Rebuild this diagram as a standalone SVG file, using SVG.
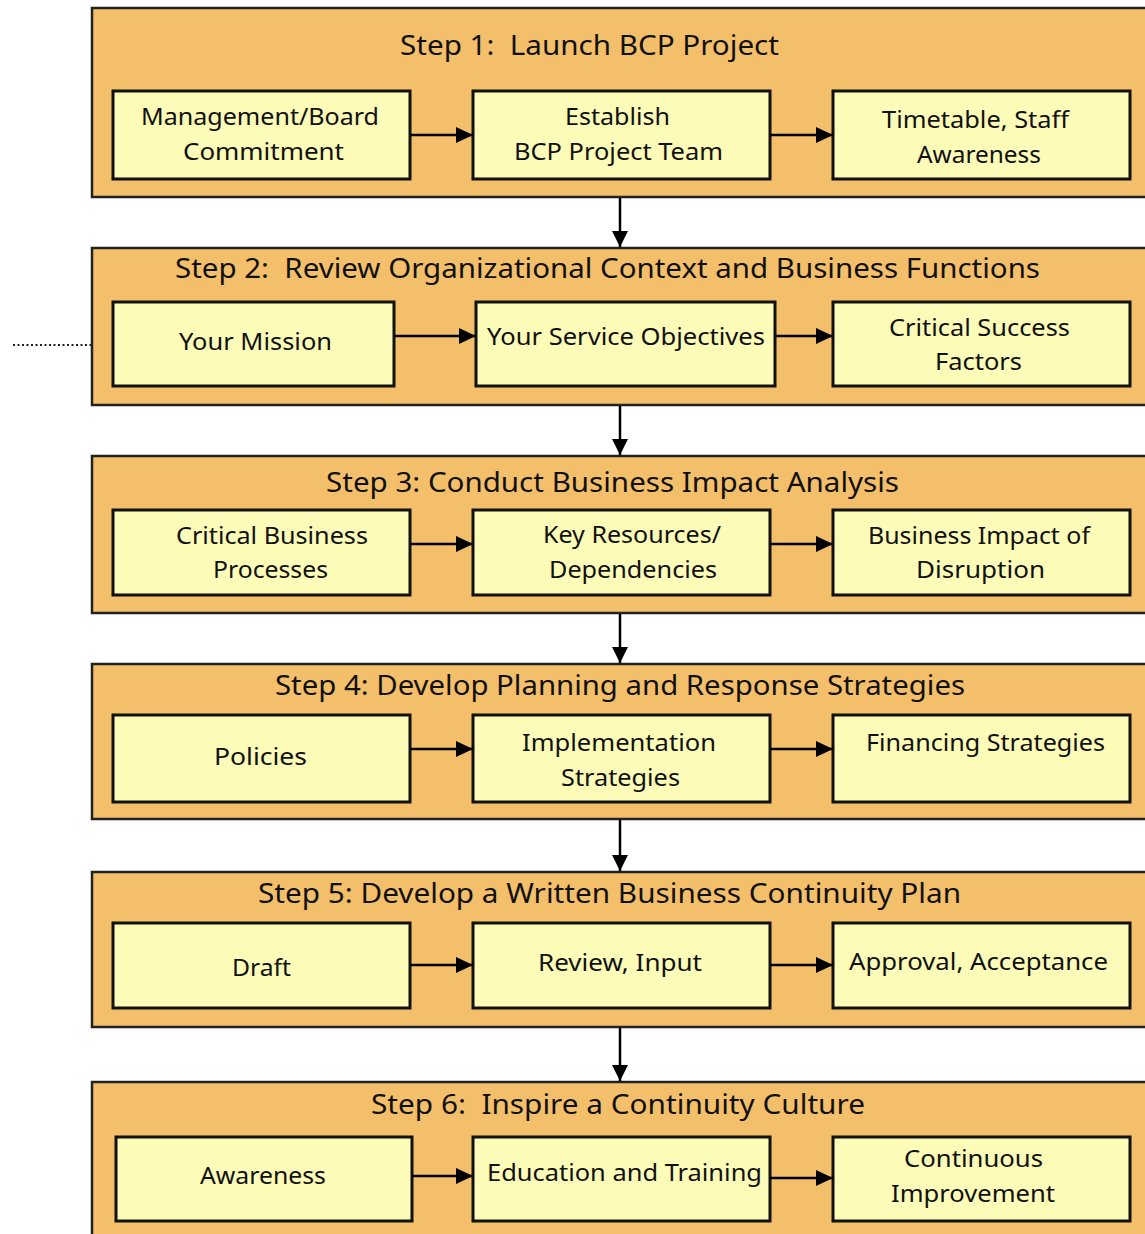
<svg xmlns="http://www.w3.org/2000/svg" width="1145" height="1234" viewBox="0 0 1145 1234">
<defs>
<style>
.panel{fill:#F4BF6B;stroke:#222;stroke-width:2.5}
.box{fill:#FCFBB8;stroke:#111;stroke-width:3}
.t{font-family:"Noto Sans","Open Sans","Liberation Sans",sans-serif;font-size:24px;fill:#111;text-anchor:start;white-space:pre}
.h{font-family:"Noto Sans","Open Sans","Liberation Sans",sans-serif;font-size:28px;fill:#111;text-anchor:start;white-space:pre}
.c{stroke:#000;stroke-width:2.5;fill:none;marker-end:url(#ah)}
.cv{stroke:#000;stroke-width:2.5;fill:none;marker-end:url(#av)}
</style>
<marker id="ah" viewBox="0 0 17 16" refX="17" refY="8" markerWidth="17" markerHeight="16" markerUnits="userSpaceOnUse" orient="auto">
<path d="M0,0 L17,8 L0,16 Z" fill="#000"/>
</marker>
<marker id="av" viewBox="0 0 16 16" refX="16" refY="8" markerWidth="16" markerHeight="16" markerUnits="userSpaceOnUse" orient="auto">
<path d="M0,0 L16,8 L0,16 Z" fill="#000"/>
</marker>
</defs>
<rect width="1145" height="1234" fill="#fff"/>

<line x1="13" y1="345" x2="91" y2="345" stroke="#222" stroke-width="2" stroke-dasharray="2,2.5"/>

<g id="step1">
<rect class="panel" x="92" y="8" width="1060" height="189"/>
<text class="h" x="400" y="55" textLength="379" lengthAdjust="spacingAndGlyphs">Step 1:  Launch BCP Project</text>
<g id="s1a"><rect class="box" x="113" y="91" width="297" height="88"/>
<text class="t" x="141" y="125" textLength="238" lengthAdjust="spacingAndGlyphs">Management/Board</text>
<text class="t" x="183" y="160" textLength="161" lengthAdjust="spacingAndGlyphs">Commitment</text></g>
<g id="s1b"><rect class="box" x="473" y="91" width="297" height="88"/>
<text class="t" x="565" y="125" textLength="105" lengthAdjust="spacingAndGlyphs">Establish</text>
<text class="t" x="514" y="160" textLength="209" lengthAdjust="spacingAndGlyphs">BCP Project Team</text></g>
<g id="s1c"><rect class="box" x="833" y="91" width="297" height="88"/>
<text class="t" x="882" y="128" textLength="187" lengthAdjust="spacingAndGlyphs">Timetable, Staff</text>
<text class="t" x="917" y="163" textLength="124" lengthAdjust="spacingAndGlyphs">Awareness</text></g>
</g>

<g id="step2">
<rect class="panel" x="92" y="248" width="1060" height="157"/>
<text class="h" x="175" y="278" textLength="865" lengthAdjust="spacingAndGlyphs">Step 2:  Review Organizational Context and Business Functions</text>
<g id="s2a"><rect class="box" x="113" y="302" width="281" height="84"/>
<text class="t" x="179" y="350" textLength="153" lengthAdjust="spacingAndGlyphs">Your Mission</text></g>
<g id="s2b"><rect class="box" x="476" y="302" width="299" height="84"/>
<text class="t" x="487" y="345" textLength="278" lengthAdjust="spacingAndGlyphs">Your Service Objectives</text></g>
<g id="s2c"><rect class="box" x="833" y="302" width="297" height="84"/>
<text class="t" x="889" y="336" textLength="181" lengthAdjust="spacingAndGlyphs">Critical Success</text>
<text class="t" x="935" y="370" textLength="87" lengthAdjust="spacingAndGlyphs">Factors</text></g>
</g>

<g id="step3">
<rect class="panel" x="92" y="456" width="1060" height="157"/>
<text class="h" x="326" y="492" textLength="573" lengthAdjust="spacingAndGlyphs">Step 3: Conduct Business Impact Analysis</text>
<g id="s3a"><rect class="box" x="113" y="510" width="297" height="85"/>
<text class="t" x="176" y="544" textLength="192" lengthAdjust="spacingAndGlyphs">Critical Business</text>
<text class="t" x="213" y="578" textLength="115" lengthAdjust="spacingAndGlyphs">Processes</text></g>
<g id="s3b"><rect class="box" x="473" y="510" width="297" height="85"/>
<text class="t" x="543" y="543" textLength="178" lengthAdjust="spacingAndGlyphs">Key Resources/</text>
<text class="t" x="549" y="578" textLength="168" lengthAdjust="spacingAndGlyphs">Dependencies</text></g>
<g id="s3c"><rect class="box" x="833" y="510" width="297" height="85"/>
<text class="t" x="868" y="544" textLength="222" lengthAdjust="spacingAndGlyphs">Business Impact of</text>
<text class="t" x="916" y="578" textLength="129" lengthAdjust="spacingAndGlyphs">Disruption</text></g>
</g>

<g id="step4">
<rect class="panel" x="92" y="664" width="1060" height="155"/>
<text class="h" x="275" y="695" textLength="690" lengthAdjust="spacingAndGlyphs">Step 4: Develop Planning and Response Strategies</text>
<g id="s4a"><rect class="box" x="113" y="715" width="297" height="87"/>
<text class="t" x="214" y="765" textLength="93" lengthAdjust="spacingAndGlyphs">Policies</text></g>
<g id="s4b"><rect class="box" x="473" y="715" width="297" height="87"/>
<text class="t" x="522" y="751" textLength="194" lengthAdjust="spacingAndGlyphs">Implementation</text>
<text class="t" x="561" y="786" textLength="119" lengthAdjust="spacingAndGlyphs">Strategies</text></g>
<g id="s4c"><rect class="box" x="833" y="715" width="297" height="87"/>
<text class="t" x="866" y="751" textLength="239" lengthAdjust="spacingAndGlyphs">Financing Strategies</text></g>
</g>

<g id="step5">
<rect class="panel" x="92" y="872" width="1060" height="155"/>
<text class="h" x="258" y="903" textLength="703" lengthAdjust="spacingAndGlyphs">Step 5: Develop a Written Business Continuity Plan</text>
<g id="s5a"><rect class="box" x="113" y="923" width="297" height="85"/>
<text class="t" x="232" y="976" textLength="59" lengthAdjust="spacingAndGlyphs">Draft</text></g>
<g id="s5b"><rect class="box" x="473" y="923" width="297" height="85"/>
<text class="t" x="538" y="971" textLength="164" lengthAdjust="spacingAndGlyphs">Review, Input</text></g>
<g id="s5c"><rect class="box" x="833" y="923" width="297" height="85"/>
<text class="t" x="849" y="970" textLength="259" lengthAdjust="spacingAndGlyphs">Approval, Acceptance</text></g>
</g>

<g id="step6">
<rect class="panel" x="92" y="1082" width="1060" height="170"/>
<text class="h" x="371" y="1114" textLength="494" lengthAdjust="spacingAndGlyphs">Step 6:  Inspire a Continuity Culture</text>
<g id="s6a"><rect class="box" x="116" y="1137" width="296" height="84"/>
<text class="t" x="200" y="1184" textLength="126" lengthAdjust="spacingAndGlyphs">Awareness</text></g>
<g id="s6b"><rect class="box" x="473" y="1137" width="297" height="84"/>
<text class="t" x="487" y="1181" textLength="275" lengthAdjust="spacingAndGlyphs">Education and Training</text></g>
<g id="s6c"><rect class="box" x="833" y="1137" width="297" height="84"/>
<text class="t" x="904" y="1167" textLength="139" lengthAdjust="spacingAndGlyphs">Continuous</text>
<text class="t" x="891" y="1202" textLength="164" lengthAdjust="spacingAndGlyphs">Improvement</text></g>
</g>

<g id="connectors">
<line class="c" x1="410" y1="135" x2="473" y2="135"/>
<line class="c" x1="770" y1="135" x2="833" y2="135"/>
<line class="c" x1="394" y1="336" x2="476" y2="336"/>
<line class="c" x1="775" y1="336" x2="833" y2="336"/>
<line class="c" x1="410" y1="544" x2="473" y2="544"/>
<line class="c" x1="770" y1="544" x2="833" y2="544"/>
<line class="c" x1="410" y1="749" x2="473" y2="749"/>
<line class="c" x1="770" y1="749" x2="833" y2="749"/>
<line class="c" x1="410" y1="965" x2="473" y2="965"/>
<line class="c" x1="770" y1="965" x2="833" y2="965"/>
<line class="c" x1="412" y1="1176" x2="473" y2="1176"/>
<line class="c" x1="770" y1="1178" x2="833" y2="1178"/>
<line class="cv" x1="620" y1="198" x2="620" y2="247"/>
<line class="cv" x1="620" y1="406" x2="620" y2="455"/>
<line class="cv" x1="620" y1="614" x2="620" y2="663"/>
<line class="cv" x1="620" y1="820" x2="620" y2="871"/>
<line class="cv" x1="620" y1="1028" x2="620" y2="1081"/>
</g>
</svg>
